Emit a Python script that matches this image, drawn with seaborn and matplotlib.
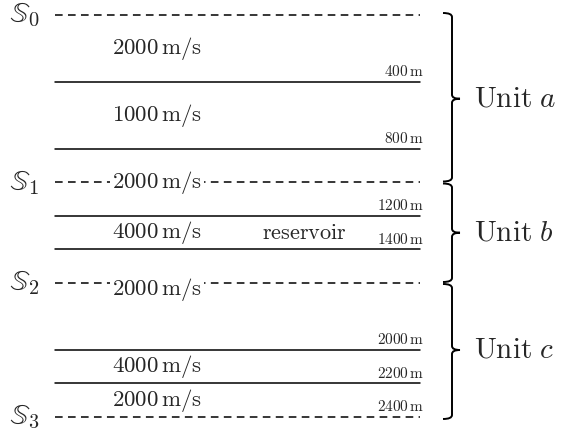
import matplotlib
matplotlib.use("Agg")
import matplotlib.pyplot as plt
from matplotlib.path import Path
from matplotlib.patches import PathPatch
import seaborn as sns
import pandas as pd

# interfaces (depth in m) and whether they are unit boundaries (dashed)
depths = [0, 400, 800, 1000, 1200, 1400, 1600, 2000, 2200, 2400]
boundary = [True, False, False, True, False, False, True, False, False, True]
depth_labels = [400, 800, 1200, 1400, 2000, 2200, 2400]

surfaces = [r"$\mathbb{S}_0$", r"$\mathbb{S}_1$", r"$\mathbb{S}_2$", r"$\mathbb{S}_3$"]
surface_depths = [0, 1000, 1600, 2400]

vel_depths = [200, 600, 1000, 1300, 1640, 2100, 2300]
velocities = [2000, 1000, 2000, 4000, 2000, 4000, 2000]
vel_on_line = [False, False, True, False, True, False, False]

units = ["a", "b", "c"]
unit_top = [0, 1000, 1600]
unit_bottom = [1000, 1600, 2400]

sns.set_theme(style="white")
plt.rcParams["mathtext.fontset"] = "cm"

fig = plt.figure(figsize=(5.61, 4.36), dpi=100)
ax = fig.add_axes([0, 0, 1, 1])

# pixel -> depth scale
k = 200 / 33.5
ax.set_xlim(0, 561)
ax.set_ylim(421 * k, -15 * k)

x0, x1 = 55, 420
rows = []
for d, b in zip(depths, boundary):
    for x in (x0, x1):
        rows.append({"x": x, "depth": d, "kind": "dashed" if b else "solid"})
df = pd.DataFrame(rows)
sns.lineplot(data=df, x="x", y="depth", units="depth", style="kind",
             estimator=None, sort=False, color="black", lw=1.1,
             dashes={"solid": "", "dashed": (5, 3.5)}, legend=False, ax=ax)

for d in depth_labels:
    ax.text(x1 + 4, d - 3 * k, rf"${d}\,\mathrm{{m}}$", fontsize=11,
            ha="right", va="bottom")

for s, d in zip(surfaces, surface_depths):
    ax.text(9, d, s, fontsize=21, ha="left", va="center")

for d, v, on in zip(vel_depths, velocities, vel_on_line):
    ax.text(157, d, rf"${v}\,\mathrm{{m/s}}$", fontsize=16.5,
            ha="center", va="center", zorder=4,
            bbox=dict(fc="white", ec="none", pad=1.2) if on else None)

ax.text(304, 1300, r"$\mathrm{reservoir}$", fontsize=16, ha="center", va="center")

# curly braces for the units
bx, hook, tip, r = 452, 9, 8, 4
for u, top, bot in zip(units, unit_top, unit_bottom):
    yt = top + 1 * k if top > 0 else top - 2 * k
    yb = bot - 1 * k if bot < 2400 else bot + 2 * k
    ym = (top + bot) / 2
    verts = [
        (bx - hook, yt), (bx, yt), (bx, yt + r * k),
        (bx, ym - r * k),
        (bx, ym), (bx + tip, ym),
        (bx, ym), (bx, ym + r * k),
        (bx, yb - r * k),
        (bx, yb), (bx - hook, yb),
    ]
    codes = [Path.MOVETO, Path.CURVE3, Path.CURVE3, Path.LINETO,
             Path.CURVE3, Path.CURVE3, Path.CURVE3, Path.CURVE3,
             Path.LINETO, Path.CURVE3, Path.CURVE3]
    ax.add_patch(PathPatch(Path(verts, codes), fc="none", ec="black", lw=1.4))
    ax.text(474, ym, rf"$\mathrm{{Unit}}\ {u}$", fontsize=21, ha="left", va="center")

ax.axis("off")
fig.savefig("out.png", dpi=100)
